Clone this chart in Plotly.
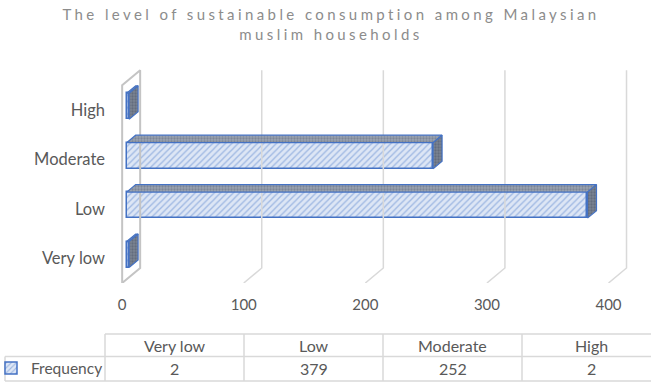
import plotly.graph_objects as go

# ---- data ----
categories = ["Very low", "Low", "Moderate", "High"]
frequency = [2, 379, 252, 2]
x_ticks = [0, 100, 200, 300, 400]
series_name = "Frequency"

# ---- geometry of the pseudo-3D box (in axis units) ----
W, H = 651, 383
ML, MR, MT, MB = 110, 6, 68, 100
X_RANGE = [-10, 430]
Y_RANGE = [-0.5, 3.85]
px_per_x = (W - ML - MR) / (X_RANGE[1] - X_RANGE[0])
px_per_y = (H - MT - MB) / (Y_RANGE[1] - Y_RANGE[0])
DX = 18 / px_per_x          # depth offset to the right
DY = 15 / px_per_y          # depth offset upward
FRONT, BACK = 0.25, 0.75    # bar slab position inside the depth
HALF = 13 / px_per_y        # half height of a bar
Y_LO, Y_HI = -0.5, 3.5

def paper_x(p):
    return (p - ML) / (W - ML - MR)

def paper_y(p):
    return (H - MB - p) / (H - MT - MB)

fig = go.Figure()

# grid lines on the back wall and floor
gx, gy = [], []
for t in x_ticks[1:]:
    gx += [t, t + DX, t + DX, None]
    gy += [Y_LO, Y_LO + DY, Y_HI + DY, None]
fig.add_trace(go.Scatter(x=gx, y=gy, mode="lines", hoverinfo="skip",
                         line=dict(color="#d9d9d9", width=1.5), showlegend=False))

# side wall at zero
wx = [0, DX, DX, 0, 0]
wy = [Y_LO, Y_LO + DY, Y_HI + DY, Y_HI, Y_LO]
fig.add_trace(go.Scatter(x=wx, y=wy, mode="lines", hoverinfo="skip",
                         line=dict(color="#c4c4c4", width=2), showlegend=False))

blue = "#4472c4"
ys = list(range(len(categories)))

# top and side faces of every bar
for i, v in zip(ys, frequency):
    x0f, x1f = FRONT * DX, v + FRONT * DX
    x0b, x1b = BACK * DX, v + BACK * DX
    top_f, bot_f = i + HALF + FRONT * DY, i - HALF + FRONT * DY
    top_b, bot_b = i + HALF + BACK * DY, i - HALF + BACK * DY
    fig.add_trace(go.Scatter(
        x=[x0f, x1f, x1b, x0b, x0f], y=[top_f, top_f, top_b, top_b, top_f],
        mode="lines", fill="toself", fillcolor="#8d97a6",
        fillpattern=dict(shape=".", fgcolor="#5f6a7b", bgcolor="#9aa3b1", size=3, solidity=0.45),
        line=dict(color=blue, width=1.2), hoverinfo="skip", showlegend=False))
    fig.add_trace(go.Scatter(
        x=[x1f, x1f, x1b, x1b, x1f], y=[bot_f, top_f, top_b, bot_b, bot_f],
        mode="lines", fill="toself", fillcolor="#6e7888",
        fillpattern=dict(shape=".", fgcolor="#4c5667", bgcolor="#7a8392", size=3, solidity=0.45),
        line=dict(color=blue, width=1.2), hoverinfo="skip", showlegend=False))

# front faces of the bars
fig.add_trace(go.Bar(
    x=frequency, y=[i + FRONT * DY for i in ys], base=FRONT * DX,
    orientation="h", width=2 * HALF, name=series_name,
    marker=dict(color="#dde6f5",
                line=dict(color=blue, width=1.5),
                pattern=dict(shape="/", fgcolor="#6189cf", bgcolor="#dde6f5",
                             size=4.5, solidity=0.3)),
    showlegend=True))

font_family = "Lato, 'Open Sans', sans-serif"
grey = "#595959"

# data table under the chart
col_left, col_w = 105, 139
row_top, row_mid, row_bot = 334, 356.5, 381
line_style = dict(color="#d9d9d9", width=1.5)
shapes = [
    dict(type="line", xref="paper", yref="paper", x0=paper_x(col_left), x1=paper_x(W),
         y0=paper_y(row_top), y1=paper_y(row_top), line=line_style),
    dict(type="line", xref="paper", yref="paper", x0=paper_x(5), x1=paper_x(W),
         y0=paper_y(row_mid), y1=paper_y(row_mid), line=line_style),
    dict(type="line", xref="paper", yref="paper", x0=paper_x(5), x1=paper_x(W),
         y0=paper_y(row_bot), y1=paper_y(row_bot), line=line_style),
    dict(type="line", xref="paper", yref="paper", x0=paper_x(5), x1=paper_x(5),
         y0=paper_y(row_mid), y1=paper_y(row_bot), line=line_style),
]
for k in range(len(categories)):
    xl = col_left + k * col_w
    shapes.append(dict(type="line", xref="paper", yref="paper", x0=paper_x(xl), x1=paper_x(xl),
                       y0=paper_y(row_top), y1=paper_y(row_bot), line=line_style))

annotations = []
cell_font = dict(size=16, color=grey, family=font_family)
for k, (c, v) in enumerate(zip(categories, frequency)):
    xc = paper_x(col_left + (k + 0.5) * col_w)
    annotations.append(dict(x=xc, y=paper_y((row_top + row_mid) / 2), xref="paper", yref="paper",
                            xanchor="center", yanchor="middle",
                            text=c, showarrow=False, font=cell_font))
    annotations.append(dict(x=xc, y=paper_y((row_mid + row_bot) / 2), xref="paper", yref="paper",
                            xanchor="center", yanchor="middle",
                            text=str(v), showarrow=False, font=cell_font))

title_text = ('<span style="letter-spacing:3.4px">The level of sustainable consumption among Malaysian'
              '<br>muslim households</span>')

fig.update_layout(
    width=W, height=H,
    margin=dict(l=ML, r=MR, t=MT, b=MB, pad=0, autoexpand=False),
    paper_bgcolor="white", plot_bgcolor="white",
    font=dict(family=font_family, color=grey, size=15),
    title=dict(text=title_text, x=331 / W, xref="container", xanchor="center",
               y=1 - 20 / H, yref="container", yanchor="middle",
               font=dict(size=15, color="#8c8c8c", family=font_family)),
    xaxis=dict(range=X_RANGE, tickvals=x_ticks, showgrid=False, zeroline=False,
               showline=False, ticks="", ticklabelstandoff=11,
               tickfont=dict(size=15, color=grey)),
    yaxis=dict(range=Y_RANGE, tickvals=ys, ticktext=categories, showgrid=False,
               zeroline=False, showline=False, ticks="", ticklabelstandoff=4,
               tickfont=dict(size=16.5, color=grey)),
    legend=dict(x=paper_x(-9), y=paper_y(368.5), xanchor="left", yanchor="middle",
                bgcolor="rgba(0,0,0,0)", font=dict(size=15.5, color=grey),
                itemwidth=30),
    shapes=shapes, annotations=annotations,
    bargap=0,
)

fig.write_html("out.html")
